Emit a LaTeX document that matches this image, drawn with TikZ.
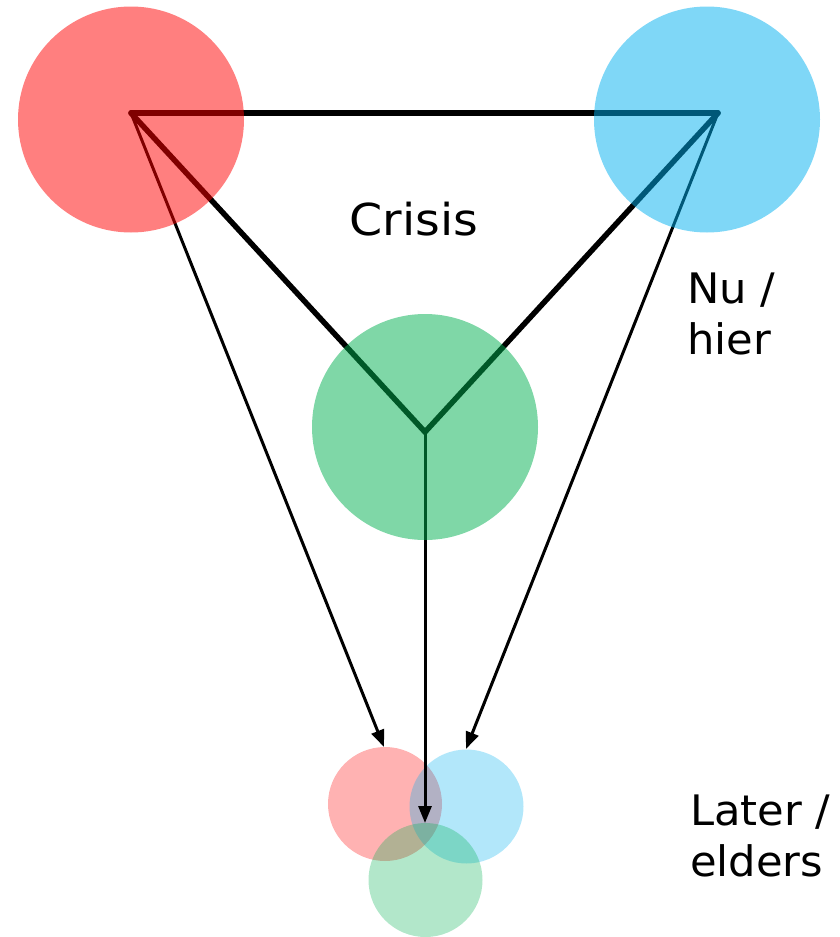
\documentclass[tikz,border=0pt]{standalone}
\usepackage{fontspec}
\setmainfont{DejaVu Sans}
\newfontfamily\crisisfont[FakeStretch=1.08]{DejaVu Sans}
\newfontfamily\labelfont[FakeStretch=1.03]{DejaVu Sans}
\usetikzlibrary{arrows.meta}
\definecolor{cred}{HTML}{FF0000}
\definecolor{cblue}{HTML}{00B0F0}
\definecolor{cgreen}{HTML}{00B050}
\tikzset{
  bigc/.style={circle, minimum size=226pt, inner sep=0pt, fill opacity=0.5, draw=none},
  smallc/.style={circle, minimum size=114pt, inner sep=0pt, fill opacity=0.3, draw=none},
  edge/.style={line width=5.5pt, line cap=round, line join=miter},
  arr/.style={line width=3pt, -{Triangle[length=17pt,width=13pt]}},
  lbl/.style={font=\labelfont\fontsize{42}{51}\selectfont, inner sep=0pt, align=left}
}
\begin{document}
\begin{tikzpicture}[x=1pt,y=-1pt]
\useasboundingbox (0,0) rectangle (839,937);
% small circles (under the arrows)
\node[smallc, fill=cred] (tR) at (385,804) {};
\node[smallc, fill=cblue] (tB) at (466.5,806.5) {};
\node[smallc, fill=cgreen] (tG) at (425.5,880) {};
% vertices
\coordinate (vR) at (131,113);
\coordinate (vB) at (718,113);
\coordinate (vG) at (425,432);
% arrow tips
\coordinate (aR) at (384,747);
\coordinate (aB) at (466,749);
\coordinate (aG) at (425,823);
% connectors
\draw[edge] (vR) -- (vB);
\draw[edge] (vR) -- (vG) -- (vB);
\draw[arr] (vR) -- (aR);
\draw[arr] (vB) -- (aB);
\draw[arr] (vG) -- (aG);
% big circles (over the lines)
\node[bigc, fill=cred] (cR) at (131,119.5) {};
\node[bigc, fill=cblue] (cB) at (707,119.5) {};
\node[bigc, fill=cgreen] (cG) at (425,427) {};
% labels
\node[inner sep=0pt, anchor=base, font=\crisisfont\fontsize{44}{50}\selectfont] (crisis) at (414,235) {Crisis};
\node[lbl, anchor=base west] (nu) at (687,354) {Nu /\\hier};
\node[lbl, anchor=base west] (later) at (690,876) {Later /\\elders};
\end{tikzpicture}
\end{document}
